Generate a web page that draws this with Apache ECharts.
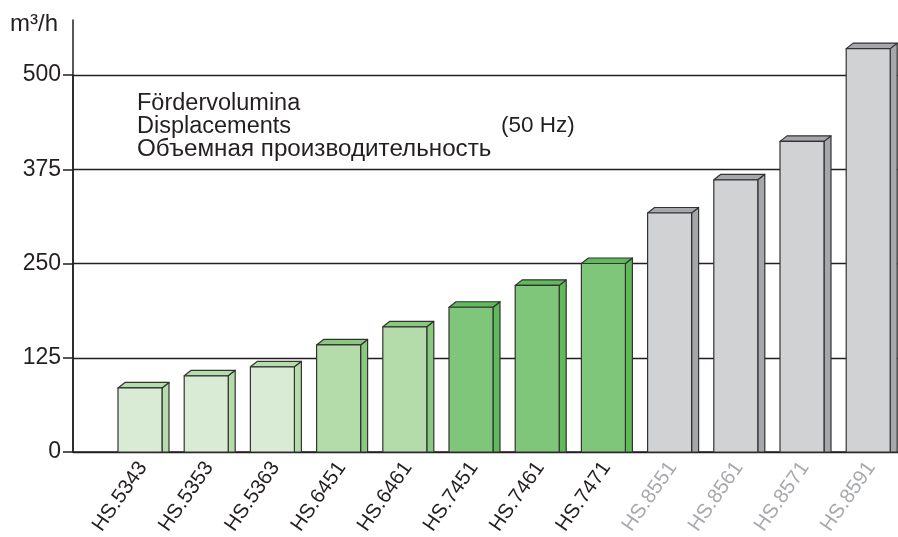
<!DOCTYPE html>
<html>
<head>
<meta charset="utf-8">
<script src="https://cdn.jsdelivr.net/npm/echarts@6/dist/echarts.min.js"></script>
<style>
html,body{margin:0;padding:0;background:#fff;}
#c{width:898px;height:537px;}
</style>
</head>
<body>
<div id="c"></div>
<script>
// ---- data ----
const categories = ['HS.5343','HS.5353','HS.5363','HS.6451','HS.6461','HS.7451','HS.7461','HS.7471','HS.8551','HS.8561','HS.8571','HS.8591'];
const flowValues = [85, 101, 113, 142, 166, 192, 221, 250, 317, 361, 412, 535];
const colorGroup = [0, 0, 0, 1, 1, 2, 2, 2, 3, 3, 3, 3];
const yTicks = [0, 125, 250, 375, 500];
const unitLabel = 'm³/h';
const noteLines = ['Fördervolumina', 'Displacements', 'Объемная производительность'];
const freqLabel = '(50 Hz)';

// ---- styles ----
const FONT = '"Liberation Sans", Arial, Helvetica, sans-serif';
const palette = [
  {front: '#d9ebd5', side: '#b5dcab'},
  {front: '#b4dcab', side: '#88c97e'},
  {front: '#80c67a', side: '#5fba5a'},
  {front: '#d1d2d4', side: '#a6a7aa'}
];
const labelColors = ['#231f20', '#231f20', '#231f20', '#a7a9ac'];
const INK = '#231f20';

const data = categories.map((c, i) => [i, flowValues[i], colorGroup[i]]);

function renderBar(params, api) {
  const idx = api.value(0);
  const top = api.coord([idx, api.value(1)]);
  const base = api.coord([idx, 0]);
  const pal = palette[api.value(2)];
  const w = 44, d = 7, h = 5.5;
  const x = top[0] - 25;
  const y = top[1];
  const b = base[1];
  const stroke = {stroke: '#333333', lineWidth: 1.2, lineJoin: 'round'};
  return {
    type: 'group',
    children: [
      {type: 'polygon', shape: {points: [[x + w, y], [x + w + d, y - h], [x + w + d, b], [x + w, b]]},
        style: Object.assign({fill: pal.side}, stroke)},
      {type: 'polygon', shape: {points: [[x, y], [x + w, y], [x + w + d, y - h], [x + d, y - h]]},
        style: Object.assign({fill: pal.side}, stroke)},
      {type: 'rect', shape: {x: x, y: y, width: w, height: b - y},
        style: Object.assign({fill: pal.front}, stroke)}
    ]
  };
}

const chart = echarts.init(document.getElementById('c'), null, {renderer: 'canvas'});
chart.setOption({
  animation: false,
  backgroundColor: '#ffffff',
  textStyle: {fontFamily: FONT},
  grid: [
    {left: 73, right: 0, top: 75, bottom: 85, containLabel: false, outerBoundsMode: 'none'},
    {left: 73, right: 0, top: 20, bottom: 85, containLabel: false, outerBoundsMode: 'none'},
    {left: 109.9, width: 794.4, top: 75, bottom: 85, containLabel: false, outerBoundsMode: 'none'}
  ],
  xAxis: [
    {gridIndex: 0, type: 'value', min: 0, max: 1, axisLine: {show: true, lineStyle: {color: INK, width: 1.5}},
      axisTick: {show: false}, axisLabel: {show: false}, splitLine: {show: false}},
    {gridIndex: 1, type: 'value', min: 0, max: 1, show: false},
    {gridIndex: 2, type: 'category', data: categories, boundaryGap: true,
      axisLine: {show: false}, axisTick: {show: false}, splitLine: {show: false},
      axisLabel: {rotate: 55, margin: 12, fontSize: 20.5, fontFamily: FONT, interval: 0,
        color: function (v, i) { return labelColors[colorGroup[i]]; }}}
  ],
  yAxis: [
    {gridIndex: 0, type: 'value', min: yTicks[0], max: yTicks[yTicks.length - 1], interval: yTicks[1] - yTicks[0],
      axisLine: {show: true, lineStyle: {color: INK, width: 1.5}},
      axisTick: {show: true, length: 10, lineStyle: {color: INK, width: 1.5}},
      axisLabel: {fontSize: 23, color: INK, margin: 12, fontFamily: FONT},
      splitLine: {show: true, lineStyle: {color: INK, width: 1.3}}},
    {gridIndex: 1, type: 'value', min: 0, max: 573,
      axisLine: {show: true, lineStyle: {color: INK, width: 1.5}},
      axisTick: {show: false}, axisLabel: {show: false}, splitLine: {show: false}},
    {gridIndex: 2, type: 'value', min: yTicks[0], max: yTicks[yTicks.length - 1], show: false}
  ],
  graphic: [
    {type: 'text', left: 10, top: 12, style: {text: unitLabel, fontSize: 24, fill: INK, fontFamily: FONT}},
    {type: 'text', left: 137, top: 92, style: {text: noteLines.slice(0, 2).join('\n'), fontSize: 23.5, lineHeight: 23, fill: INK, fontFamily: FONT}},
    {type: 'text', left: 137, top: 138, scaleX: 1.03, style: {text: noteLines[2], fontSize: 23.5, lineHeight: 23, fill: INK, fontFamily: FONT}},
    {type: 'text', left: 501, top: 114, style: {text: freqLabel, fontSize: 22.5, fill: INK, fontFamily: FONT}}
  ],
  series: [
    {type: 'custom', xAxisIndex: 2, yAxisIndex: 2, renderItem: renderBar, data: data, clip: false, z: 5}
  ]
});
</script>
</body>
</html>
